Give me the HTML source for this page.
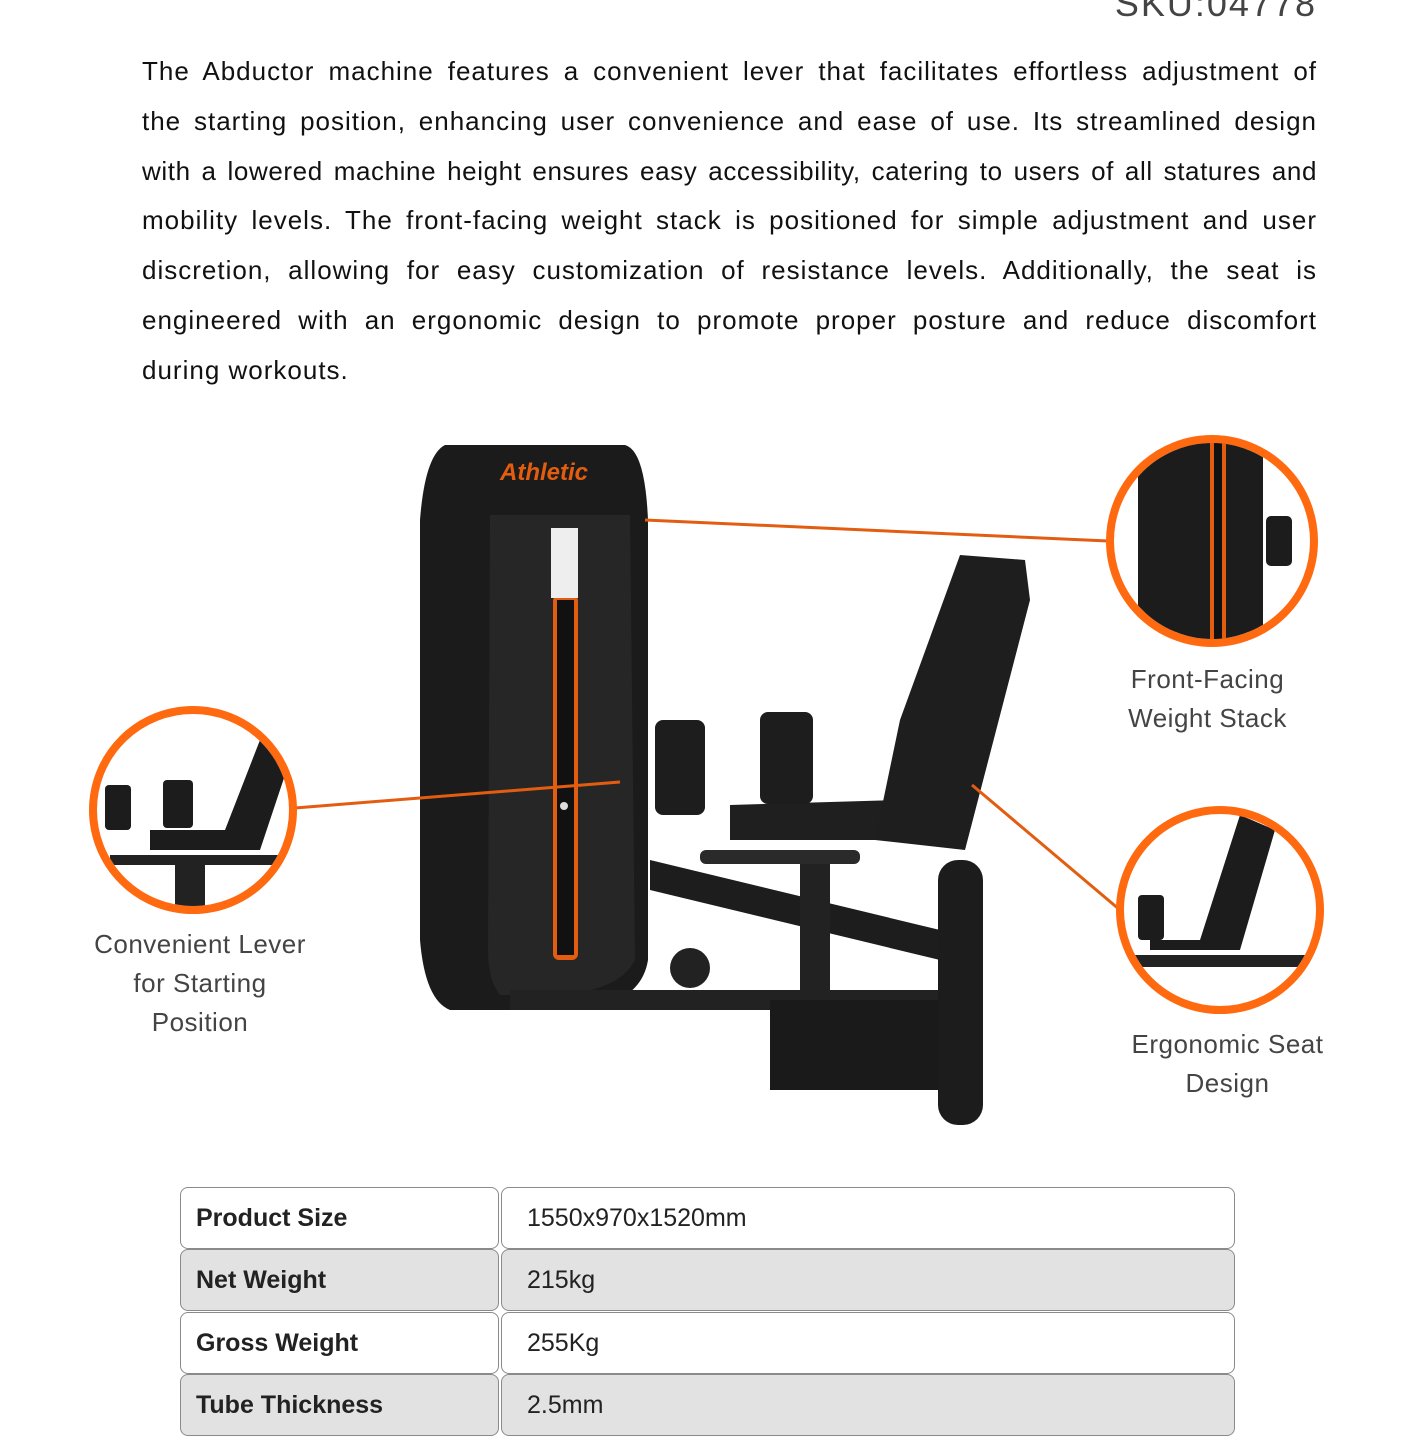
<!DOCTYPE html>
<html><head><meta charset="utf-8"><style>
body{margin:0;width:1414px;height:1414px;overflow:hidden;background:#fff;font-family:"Liberation Sans",sans-serif;position:relative}
.sku{position:absolute;right:97px;top:-17px;font-size:36px;color:#444;letter-spacing:2px}
.desc{position:absolute;left:142px;top:47px;width:1175px;font-size:26px;line-height:49.8px;color:#111;letter-spacing:1px}
.desc div{text-align:justify;text-align-last:justify}
.desc div.last{text-align-last:left}
.lbl{position:absolute;font-size:26px;color:#444;text-align:center;line-height:39px;letter-spacing:.5px}
.cell{position:absolute;box-sizing:border-box;border:1.5px solid #8a8a8a;border-radius:8px;font-size:25px;display:flex;align-items:center;color:#222}
.l{left:180px;width:319px;padding-left:15px;font-weight:bold}
.r{left:501px;width:734px;padding-left:25px}
.g{background:#e2e2e2}
</style></head><body>
<div class="sku">SKU:04778</div>
<div class="desc">
<div>The Abductor machine features a convenient lever that facilitates effortless adjustment of</div>
<div>the starting position, enhancing user convenience and ease of use. Its streamlined design</div>
<div style="letter-spacing:0.6px">with a lowered machine height ensures easy accessibility, catering to users of all statures and</div>
<div>mobility levels. The front-facing weight stack is positioned for simple adjustment and user</div>
<div>discretion, allowing for easy customization of resistance levels. Additionally, the seat is</div>
<div>engineered with an ergonomic design to promote proper posture and reduce discomfort</div>
<div class="last">during workouts.</div>
</div>
<svg width="1414" height="1414" style="position:absolute;left:0;top:0">
<path d="M445 445 L625 445 Q645 450 648 520 L648 960 Q640 1010 560 1010 L450 1010 Q425 1000 420 940 L420 520 Q425 455 445 445Z" fill="#1b1b1b"/>
<path d="M490 515 L630 515 L635 960 Q620 990 560 995 L500 995 Q488 980 488 950Z" fill="#262626"/>
<rect x="553" y="595" width="25" height="365" rx="6" fill="#e35d10"/>
<rect x="557" y="600" width="17" height="355" fill="#111"/>
<rect x="551" y="528" width="27" height="70" fill="#eee"/>
<circle cx="564" cy="806" r="4" fill="#ddd"/>
<text x="500" y="480" font-family="Liberation Sans" font-weight="bold" font-style="italic" font-size="24" fill="#e35d10">Athletic</text>
<path d="M510 990 L940 990 L940 1010 L510 1010Z" fill="#222"/>
<path d="M650 860 L940 930 L940 960 L650 890Z" fill="#1d1d1d"/>
<rect x="770" y="1000" width="170" height="90" fill="#1a1a1a"/>
<rect x="938" y="860" width="45" height="265" rx="20" fill="#1c1c1c"/>
<rect x="800" y="860" width="30" height="140" fill="#222"/>
<rect x="700" y="850" width="160" height="14" rx="6" fill="#2a2a2a"/>
<path d="M730 805 L900 800 L900 840 L730 840Z" fill="#1f1f1f"/>
<path d="M960 555 L1025 560 L1030 600 L965 850 L875 840 L900 720Z" fill="#1e1e1e"/>
<rect x="655" y="720" width="50" height="95" rx="8" fill="#1d1d1d"/>
<rect x="760" y="712" width="53" height="92" rx="8" fill="#1d1d1d"/>
<circle cx="690" cy="968" r="20" fill="#222"/>
<g stroke="#e35d10" stroke-width="3" fill="none">
<line x1="645" y1="520" x2="1108" y2="541"/>
<line x1="295" y1="808" x2="620" y2="782"/>
<line x1="972" y1="785" x2="1120" y2="910"/>
</g>
<g stroke="#ff6a10" stroke-width="8" fill="#fff">
<circle cx="1212" cy="541" r="102"/>
<circle cx="193" cy="810" r="100"/>
<circle cx="1220" cy="910" r="100"/>
</g>
<clipPath id="c1"><circle cx="1212" cy="541" r="98"/></clipPath>
<g clip-path="url(#c1)"><rect x="1138" y="440" width="125" height="210" fill="#1c1c1c"/><rect x="1210" y="440" width="16" height="210" fill="#e35d10"/><rect x="1214" y="440" width="8" height="210" fill="#111"/><rect x="1266" y="516" width="26" height="50" rx="5" fill="#1c1c1c"/></g>
<clipPath id="c2"><circle cx="193" cy="810" r="96"/></clipPath>
<g clip-path="url(#c2)"><rect x="105" y="785" width="26" height="45" rx="4" fill="#1c1c1c"/><rect x="163" y="780" width="30" height="48" rx="4" fill="#1c1c1c"/><path d="M260 740 L290 760 L260 850 L150 850 L150 830 L225 830Z" fill="#1c1c1c"/><rect x="110" y="855" width="180" height="10" fill="#222"/><rect x="175" y="860" width="30" height="50" fill="#222"/></g>
<clipPath id="c3"><circle cx="1220" cy="910" r="96"/></clipPath>
<g clip-path="url(#c3)"><path d="M1240 815 L1275 830 L1240 950 L1150 950 L1150 940 L1200 940Z" fill="#1c1c1c"/><rect x="1138" y="895" width="26" height="45" rx="4" fill="#1c1c1c"/><rect x="1130" y="955" width="180" height="12" fill="#222"/></g>
</svg>
<div class="lbl" style="left:1090px;top:660px;width:235px">Front-Facing<br>Weight Stack</div>
<div class="lbl" style="left:70px;top:925px;width:260px">Convenient Lever<br>for Starting<br>Position</div>
<div class="lbl" style="left:1110px;top:1025px;width:235px">Ergonomic Seat<br>Design</div>
<div class="cell l" style="top:1187px;height:62px">Product Size</div>
<div class="cell r" style="top:1187px;height:62px">1550x970x1520mm</div>
<div class="cell l g" style="top:1249px;height:62px">Net Weight</div>
<div class="cell r g" style="top:1249px;height:62px">215kg</div>
<div class="cell l" style="top:1312px;height:62px">Gross Weight</div>
<div class="cell r" style="top:1312px;height:62px">255Kg</div>
<div class="cell l g" style="top:1374px;height:62px">Tube Thickness</div>
<div class="cell r g" style="top:1374px;height:62px">2.5mm</div>
</body></html>
